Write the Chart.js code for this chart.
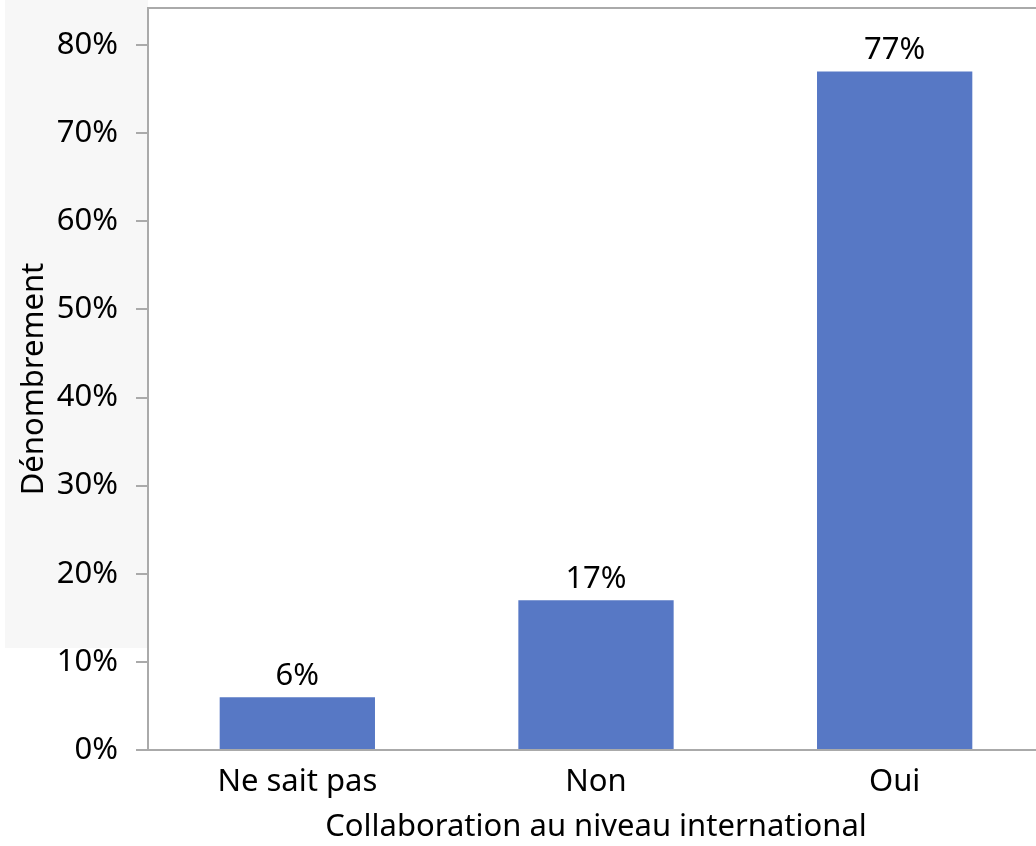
<!DOCTYPE html>
<html>
<head>
<meta charset="utf-8">
<script src="https://cdn.jsdelivr.net/npm/chart.js@4/dist/chart.umd.min.js"></script>
<style>
  html, body { margin: 0; padding: 0; background: #fff; overflow: hidden; }
  #wrap { position: relative; width: 1044px; height: 846px; }
  #shade { position: absolute; left: 5px; top: 0; width: 143px; height: 648px; background: #f7f7f7; }
  #chart { position: absolute; left: 0; top: 0; }
</style>
</head>
<body>
<div id="wrap">
  <div id="shade"></div>
  <canvas id="chart" width="1044" height="846"></canvas>
</div>
<script>
const categories = ['Ne sait pas', 'Non', 'Oui']
const shares = [6, 17, 77]
const yTicks = [0, 10, 20, 30, 40, 50, 60, 70, 80]

const axisColor = '#aaaaaa'
const font = { family: "'Noto Sans', 'Open Sans', sans-serif", size: 31 }

// writes the percentage above every bar
const barLabels = {
  id: 'barLabels',
  afterDatasetsDraw(chart) {
    const ctx = chart.ctx
    const meta = chart.getDatasetMeta(0)
    ctx.save()
    ctx.font = `${font.size}px ${font.family}`
    ctx.fillStyle = '#000'
    ctx.textAlign = 'center'
    ctx.textBaseline = 'alphabetic'
    meta.data.forEach((bar, i) => {
      ctx.fillText(Math.round(shares[i]) + '%', bar.x, bar.y - 12)
    })
    ctx.restore()
  }
}

const ctx = document.getElementById('chart').getContext('2d')

let config = {
  type: 'bar',
  data: {
    labels: categories,
    datasets: [{
      data: shares,
      backgroundColor: '#5778c5',
      borderWidth: 0,
      barPercentage: 0.52,
      categoryPercentage: 1
    }]
  },
  options: {
    responsive: false,
    animation: false,
    layout: { padding: { top: 8, right: 0, left: 0, bottom: 0 } },
    plugins: { legend: { display: false }, tooltip: { enabled: false } },
    scales: {
      x: {
        afterFit: s => { s.height = 96 },
        grid: { display: false },
        border: { color: axisColor, width: 2 },
        ticks: { color: '#000', font: font, padding: 6 },
        title: {
          display: true,
          text: 'Collaboration au niveau international',
          color: '#000',
          font: font,
          padding: { top: 0, bottom: 0 }
        }
      },
      xTop: {
        position: 'top',
        afterFit: s => { s.height = 0 },
        grid: { display: false },
        border: { color: axisColor, width: 2 },
        ticks: { display: false }
      },
      y: {
        min: 0,
        max: 84.2,
        afterFit: s => {
          s.width = 148
          s.paddingTop = 0
          s.paddingBottom = 0
        },
        afterBuildTicks: scale => {
          scale.ticks = yTicks.map(v => ({ value: v }))
        },
        grid: {
          drawOnChartArea: false,
          color: axisColor,
          tickLength: 12,
          lineWidth: 2
        },
        border: { color: axisColor, width: 2 },
        ticks: {
          color: '#000',
          font: font,
          padding: 18,
          callback: v => v + '%'
        },
        title: {
          display: true,
          text: 'Dénombrement',
          color: '#000',
          font: font,
          padding: { top: 16, bottom: 0 }
        }
      }
    }
  },
  plugins: [barLabels]
}

new Chart(ctx, config)
</script>
</body>
</html>
